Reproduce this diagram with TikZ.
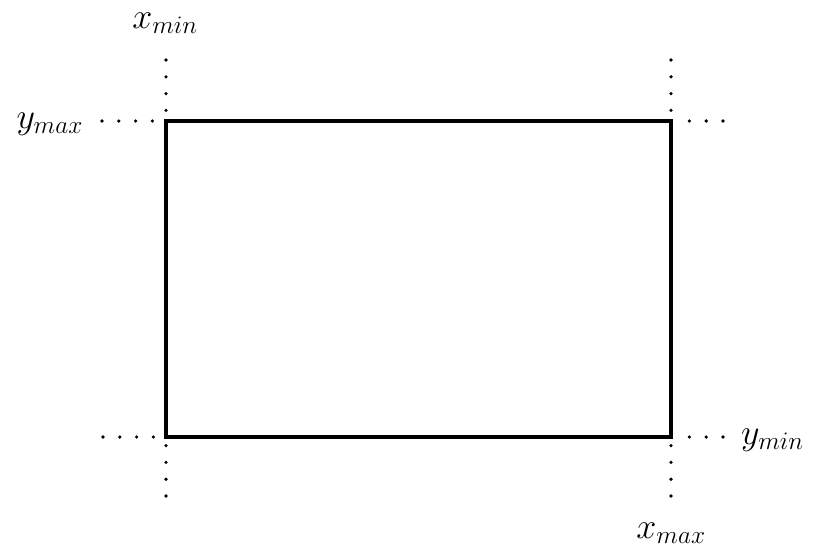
\RequirePackage{fix-cm}
\documentclass[tikz,border=0pt]{standalone}
\newcommand{\bndlabel}[2]{\fontsize{36}{40}\selectfont$#1_{#2}$}
\begin{document}
\begin{tikzpicture}[
    x=1pt, y=-1pt,
    frame/.style={line width=3.2pt, line join=miter},
    guide/.style={line width=3.6pt, line cap=round, dash pattern=on 0pt off 16.8pt, shorten >=6pt},
    bound/.style={inner sep=0pt, text height=16pt},
]
\useasboundingbox (0,0) rectangle (813,558);
% corners of the window
\coordinate (tl) at (166,121);
\coordinate (tr) at (671,121);
\coordinate (br) at (671,437);
\coordinate (bl) at (166,437);
% outer ends of the dotted guides
\coordinate (tl-up) at (166,60);
\coordinate (tl-left) at (102,121);
\coordinate (tr-up) at (671,60);
\coordinate (tr-right) at (723,121);
\coordinate (bl-left) at (103,437);
\coordinate (bl-down) at (166,496);
\coordinate (br-right) at (723,437);
\coordinate (br-down) at (671,496);
\draw[frame] (tl) -- (tr) -- (br) -- (bl) -- cycle;
\draw[guide] (tl-up) -- (tl);
\draw[guide] (tl-left) -- (tl);
\draw[guide] (tr-up) -- (tr);
\draw[guide] (tr-right) -- (tr);
\draw[guide] (bl-left) -- (bl);
\draw[guide] (bl-down) -- (bl);
\draw[guide] (br-right) -- (br);
\draw[guide] (br-down) -- (br);
\node[bound, anchor=base] (xmin) at (165,28) {\bndlabel{x}{min}};
\node[bound, anchor=base] (xmax) at (671,538) {\bndlabel{x}{max}};
\node[bound, anchor=base east] (ymax) at (83,128) {\bndlabel{y}{max}};
\node[bound, anchor=base west] (ymin) at (741,444) {\bndlabel{y}{min}};
\end{tikzpicture}
\end{document}
